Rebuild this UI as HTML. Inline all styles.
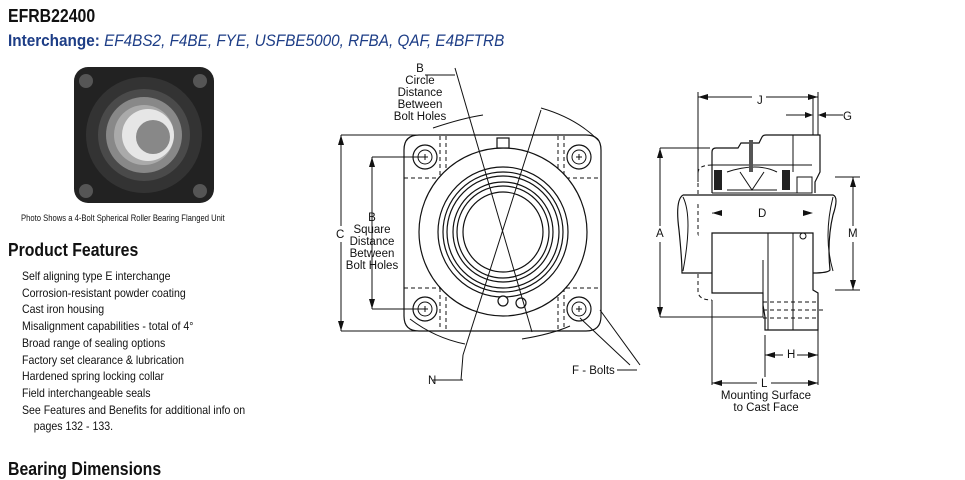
<!DOCTYPE html>
<html><head><meta charset="utf-8"><style>
body{margin:0;width:965px;height:480px;background:#fff;position:relative;overflow:hidden;font-family:"Liberation Sans",Arial,sans-serif;color:#111}
.a{position:absolute;white-space:nowrap}
.t{font-weight:bold;font-size:18px;transform:scaleX(.88);transform-origin:left}
.f{font-size:12px;transform:scaleX(.88);transform-origin:left;line-height:16.7px}
</style></head><body>
<div class="a t" style="left:8px;top:6px">EFRB22400</div>
<div class="a" style="left:8px;top:31px;font-size:17px;color:#1d3d86;transform:scaleX(.9);transform-origin:left"><b>Interchange:</b> <i>EF4BS2, F4BE, FYE, USFBE5000, RFBA, QAF, E4BFTRB</i></div>
<svg class="a" style="left:70px;top:63px" width="148" height="145" viewBox="0 0 148 145">
<rect x="4" y="4" width="140" height="136" rx="14" fill="#222"/>
<circle cx="16" cy="18" r="7" fill="#555"/><circle cx="130" cy="18" r="7" fill="#555"/>
<circle cx="16" cy="128" r="7" fill="#555"/><circle cx="130" cy="128" r="7" fill="#555"/>
<circle cx="74" cy="72" r="58" fill="#333"/><circle cx="74" cy="72" r="46" fill="#4a4a4a"/>
<circle cx="74" cy="72" r="38" fill="#888"/><circle cx="74" cy="72" r="30" fill="#aaa"/>
<circle cx="78" cy="72" r="26" fill="#e6e6e6"/><circle cx="83" cy="74" r="17" fill="#888"/>
</svg>
<div class="a" style="left:21px;top:213px;font-size:9px;transform:scaleX(.85);transform-origin:left">Photo Shows a 4-Bolt Spherical Roller Bearing Flanged Unit</div>
<div class="a t" style="left:8px;top:240px">Product Features</div>
<div class="a f" style="left:22px;top:268px">Self aligning type E interchange<br>Corrosion-resistant powder coating<br>Cast iron housing<br>Misalignment capabilities - total of 4°<br>Broad range of sealing options<br>Factory set clearance &amp; lubrication<br>Hardened spring locking collar<br>Field interchangeable seals<br>See Features and Benefits for additional info on<br>&nbsp;&nbsp;&nbsp;&nbsp;pages 132 - 133.</div>
<div class="a t" style="left:8px;top:459px">Bearing Dimensions</div>

<svg class="a" style="left:0;top:0" width="965" height="480" font-family="Liberation Sans,Arial,sans-serif" font-size="11" fill="none" stroke="#111" stroke-width="1.2">
<!-- front view -->
<path d="M404 150 Q404 135 419 135 L586 135 Q601 135 601 150 L601 316 Q601 331 586 331 L419 331 Q404 331 404 316 Z"/>
<g stroke-dasharray="4 3" stroke-width="1">
<line x1="404" y1="178" x2="440" y2="178"/><line x1="566" y1="178" x2="601" y2="178"/>
<line x1="404" y1="288" x2="440" y2="288"/><line x1="566" y1="288" x2="601" y2="288"/>
<line x1="440" y1="136" x2="440" y2="178"/><line x1="446" y1="136" x2="446" y2="175"/>
<line x1="558" y1="136" x2="558" y2="175"/><line x1="564" y1="136" x2="564" y2="178"/>
<line x1="440" y1="288" x2="440" y2="330"/><line x1="446" y1="290" x2="446" y2="330"/>
<line x1="558" y1="290" x2="558" y2="330"/><line x1="564" y1="288" x2="564" y2="330"/>
</g>
<circle cx="503" cy="232" r="84" fill="#fff"/>
<circle cx="503" cy="232" r="65"/><circle cx="503" cy="232" r="60"/><circle cx="503" cy="232" r="56"/>
<circle cx="503" cy="232" r="50"/><circle cx="503" cy="232" r="46"/><circle cx="503" cy="232" r="40"/>
<g fill="#fff"><circle cx="425" cy="157" r="12"/><circle cx="579" cy="157" r="12"/><circle cx="425" cy="309" r="12"/><circle cx="579" cy="309" r="12"/></g>
<g stroke-width="1"><circle cx="425" cy="157" r="7"/><circle cx="579" cy="157" r="7"/><circle cx="425" cy="309" r="7"/><circle cx="579" cy="309" r="7"/>
<path d="M422 157h6M425 154v6M576 157h6M579 154v6M422 309h6M425 306v6M576 309h6M579 306v6"/></g>
<rect x="497" y="138" width="12" height="10" fill="#fff"/><circle cx="503" cy="301" r="5" fill="#fff"/><circle cx="521" cy="303" r="5"/>
<!-- dims -->
<path d="M341 135h100M341 331h100M341 135v196M372 157h53M372 309h53M372 157v152" stroke-width="1"/>
<path d="M341 135l-3 10h6zM341 331l-3 -10h6zM372 157l-3 10h6zM372 309l-3 -10h6z" fill="#111" stroke="none"/>
<path d="M455 68l77 264M541 110l-78 245M433 128q30 -10 50 -13M465 344q-30 -6 -55 -25M541 108q35 10 57 32M522 339q30 -5 48 -13M425 75h30M433 380h30M463 355l-2 25M600 310l40 55M580 318l50 47M617 370h20" stroke-width="1"/>
<!-- side view -->
<g stroke-width="1">
<path d="M698 92v90M818 92v50M813 96v70M712 300v85M818 295v90M765 335v50"/>
<path d="M698 97h120M786 115h22M823 115h20M660 148h50M660 317h52M660 148v169M835 177h25M835 290h25M853 177v113M712 213h101M765 355h53M712 383h106"/>
</g>
<!-- housing top -->
<path d="M712 193V152q0-4 4-4h22l3-5h18l3-6q1-2 4-2h54v37l-5 10v11" fill="#fff"/>
<path d="M793 135v37" stroke-width="1"/>
<path d="M712 165h100M712 193h100" stroke-width="1"/>
<path d="M712 165q-14 0-14 8v118q0 9 14 9" stroke-dasharray="4 3" stroke-width="1"/>
<rect x="714" y="170" width="8" height="20" fill="#222" stroke="none"/><rect x="782" y="170" width="8" height="20" fill="#222" stroke="none"/>
<rect x="797" y="177" width="15" height="16" fill="#fff" stroke-width="1"/>
<path d="M727 172q30-10 50 0M727 190h50M740 172l12 18l12-18" stroke-width="1"/>
<rect x="749" y="140" width="4" height="32" fill="#555" stroke="none"/>
<!-- shaft -->
<path d="M683 195h150q6 2 0 20q-6 25-3 55q-2 3-17 3M683 195q-8 5-4 35q3 30 3 43h30" fill="#fff"/>
<path d="M683 197q10 20 0 74M833 197q-10 40 0 74" stroke-width="1"/>
<!-- body -->
<path d="M712 233h101v57l5 3v37h-53v-13l-2-12l0 4v-16h-51z" fill="#fff"/>
<path d="M712 317h51v-57M768 233v97M793 233v97" stroke-width="1"/>
<path d="M793 233v97M763 302h55M763 310h60M763 318h55" stroke-dasharray="4 3" stroke-width="1"/>
<circle cx="803" cy="236" r="3" stroke-width="1"/>
<g fill="#111" stroke="none">
<path d="M698 97l10-3v6zM818 97l-10-3v6zM813 115l-8-3v6zM818 115l8-3v6zM660 148l-3 10h6zM660 317l-3-10h6zM853 177l-3 10h6zM853 290l-3-10h6zM712 213l10-3v6zM813 213l-10-3v6zM765 355l10-3v6zM818 355l-10-3v6zM712 383l10-3v6zM818 383l-10-3v6z"/>
</g>
<g fill="#111" stroke="none" font-size="11.5">
<text x="420" y="72" text-anchor="middle">B</text><text x="420" y="84" text-anchor="middle">Circle</text>
<text x="420" y="96" text-anchor="middle">Distance</text><text x="420" y="108" text-anchor="middle">Between</text><text x="420" y="120" text-anchor="middle">Bolt Holes</text>
<text x="372" y="221" text-anchor="middle">B</text><text x="372" y="233" text-anchor="middle">Square</text><text x="372" y="245" text-anchor="middle">Distance</text>
<text x="372" y="257" text-anchor="middle">Between</text><text x="372" y="269" text-anchor="middle">Bolt Holes</text>
<rect x="334" y="226" width="14" height="16" fill="#fff"/><text x="336" y="238">C</text>
<text x="428" y="384">N</text><text x="572" y="374">F - Bolts</text>
<rect x="752" y="91" width="14" height="12" fill="#fff"/><text x="757" y="104">J</text><text x="843" y="120">G</text>
<rect x="654" y="226" width="12" height="16" fill="#fff"/><text x="656" y="237">A</text>
<rect x="754" y="206" width="14" height="14" fill="#fff"/><text x="758" y="217">D</text>
<rect x="846" y="226" width="14" height="16" fill="#fff"/><text x="848" y="237">M</text>
<rect x="783" y="348" width="14" height="14" fill="#fff"/><text x="787" y="358">H</text>
<rect x="757" y="377" width="14" height="14" fill="#fff"/><text x="761" y="387">L</text>
<text x="766" y="399" text-anchor="middle">Mounting Surface</text><text x="766" y="411" text-anchor="middle">to Cast Face</text>
</g>
</svg>
</body></html>
